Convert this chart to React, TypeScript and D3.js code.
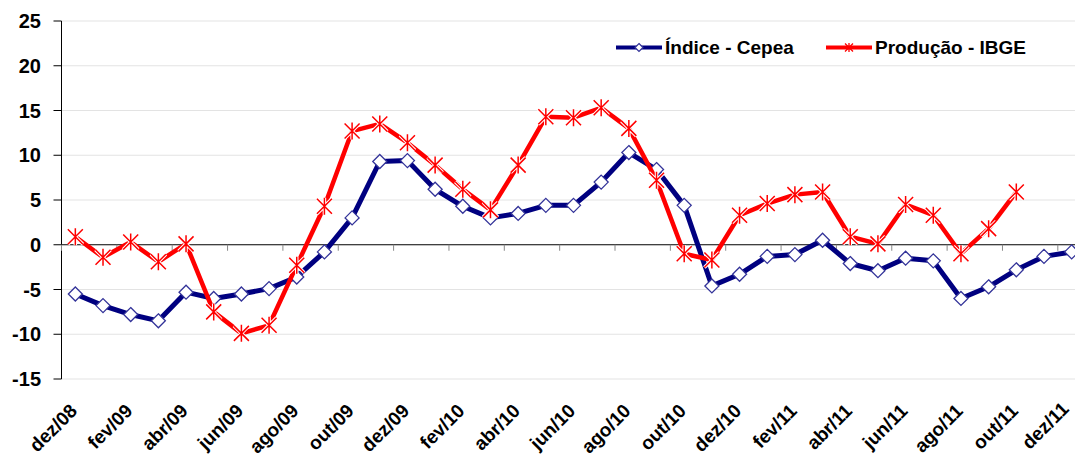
import React, { useEffect } from "react";
import * as d3 from "d3";

// categories (monthly, dez/08 .. dez/11)
const months = [
  "dez/08", "jan/09", "fev/09", "mar/09", "abr/09", "mai/09", "jun/09", "jul/09",
  "ago/09", "set/09", "out/09", "nov/09", "dez/09", "jan/10", "fev/10", "mar/10",
  "abr/10", "mai/10", "jun/10", "jul/10", "ago/10", "set/10", "out/10", "nov/10",
  "dez/10", "jan/11", "fev/11", "mar/11", "abr/11", "mai/11", "jun/11", "jul/11",
  "ago/11", "set/11", "out/11", "nov/11", "dez/11",
];

const indiceCepea = [
  -5.5, -6.8, -7.8, -8.5, -5.3, -6.0, -5.5, -4.9, -3.6, -0.8, 3.0, 9.3, 9.4,
  6.2, 4.3, 3.0, 3.5, 4.4, 4.4, 7.0, 10.3, 8.4, 4.4, -4.6, -3.3, -1.3, -1.1,
  0.5, -2.1, -2.9, -1.5, -1.8, -6.0, -4.7, -2.8, -1.3, -0.8,
];

const producaoIbge: (number | null)[] = [
  0.9, -1.4, 0.3, -1.9, 0.1, -7.5, -9.9, -9.0, -2.3, 4.3, 12.7, 13.5, 11.4,
  8.9, 6.2, 3.9, 8.9, 14.3, 14.2, 15.3, 13.0, 7.2, -1.0, -1.7, 3.3, 4.6, 5.6,
  5.9, 0.9, 0.1, 4.5, 3.3, -1.0, 1.8, 5.9, null, null,
];

const yTicks = [-15, -10, -5, 0, 5, 10, 15, 20, 25];

const W = 1075;
const H = 457;
const FONT = "'Liberation Sans', Arial, sans-serif";
const BLUE = "#000080";
const RED = "#FF0000";

function Diamond({ x, y }: { x: number; y: number }) {
  const r = 7;
  return (
    <path
      d={`M${x},${y - r}L${x + r},${y}L${x},${y + r}L${x - r},${y}Z`}
      fill="#fff"
      stroke="#333399"
      strokeWidth={1.3}
    />
  );
}

function Star({ x, y }: { x: number; y: number }) {
  const r = 7.5;
  const d = `M${x - r},${y - r}L${x + r},${y + r}M${x - r},${y + r}L${x + r},${y - r}M${x},${y - r - 1}L${x},${y + r + 1}`;
  return (
    <g>
      {/* thin white halo, the marker knocks the line out a little */}
      <path d={d} stroke="#fff" strokeWidth={3.5} fill="none" />
      <path d={d} stroke={RED} strokeWidth={1.5} fill="none" />
    </g>
  );
}

export default function App() {
  useEffect(() => {
    document.body.style.margin = "0";
  }, []);

  const x = d3.scaleBand<string>().domain(months).range([61.5, 1085.5]);
  const px = (m: string) => (x(m) as number) + x.bandwidth() / 2;
  const y = d3.scaleLinear().domain([-15, 25]).range([379, 21]);

  const line = d3
    .line<number | null>()
    .defined((d) => d !== null)
    .x((_, i) => px(months[i]))
    .y((d) => y(d as number));

  const left = 61.5;

  return (
    <svg width={W} height={H} style={{ display: "block", background: "#fff" }} fontFamily={FONT}>
      {/* gridlines */}
      {yTicks.filter((t) => t !== 0).map((t) => (
        <line key={t} x1={left} x2={W} y1={y(t)} y2={y(t)} stroke="#e3e3e3" strokeWidth={1} />
      ))}
      {/* y axis */}
      <line x1={left} x2={left} y1={y(25)} y2={y(-15)} stroke="#000" />
      {yTicks.map((t) => (
        <g key={t}>
          <line x1={left - 8} x2={left} y1={y(t)} y2={y(t)} stroke="#000" />
          <text
            x={41}
            y={y(t)}
            dy="0.36em"
            textAnchor="end"
            fontSize={20}
            fontWeight="bold"
          >
            {t}
          </text>
        </g>
      ))}
      {/* category axis at 0 */}
      <line x1={left} x2={W} y1={y(0)} y2={y(0)} stroke="#000" />
      {months.map((m, i) =>
        i % 2 === 0 ? (
          <line
            key={m}
            x1={x(m) as number}
            x2={x(m) as number}
            y1={y(0)}
            y2={y(0) + 6}
            stroke="#888"
          />
        ) : null
      )}
      {/* x labels */}
      {months.map((m, i) =>
        i % 2 === 0 ? (
          <text
            key={m}
            transform={`translate(${Math.min(px(m) + 3, 1070)},${i === 36 ? 410 : 412}) rotate(-45)`}
            textAnchor="end"
            fontSize={19}
            fontWeight="bold"
          >
            {m}
          </text>
        ) : null
      )}
      {/* series */}
      <path d={line(indiceCepea) || ""} fill="none" stroke={BLUE} strokeWidth={5} strokeLinejoin="round" />
      {indiceCepea.map((v, i) => (
        <Diamond key={i} x={px(months[i])} y={y(v)} />
      ))}
      <path d={line(producaoIbge) || ""} fill="none" stroke={RED} strokeWidth={4.5} strokeLinejoin="round" />
      {producaoIbge.map((v, i) =>
        v === null ? null : <Star key={i} x={px(months[i])} y={y(v)} />
      )}
      {/* legend */}
      <g>
        <line x1={616} x2={662} y1={47.5} y2={47.5} stroke={BLUE} strokeWidth={4} />
        <path d="M639,43.5L643,47.5L639,51.5L635,47.5Z" fill="#fff" stroke="#333399" strokeWidth={1.2} />
        <text x={665} y={47.5} dy="0.36em" fontSize={19} fontWeight="bold">
          Índice - Cepea
        </text>
        <line x1={826} x2={872} y1={47.5} y2={47.5} stroke={RED} strokeWidth={4} />
        <path d="M845,43.5L853,51.5M845,51.5L853,43.5M849,43L849,52" stroke={RED} strokeWidth={1.3} />
        <text x={875} y={47.5} dy="0.36em" fontSize={19} fontWeight="bold">
          Produção - IBGE
        </text>
      </g>
    </svg>
  );
}
